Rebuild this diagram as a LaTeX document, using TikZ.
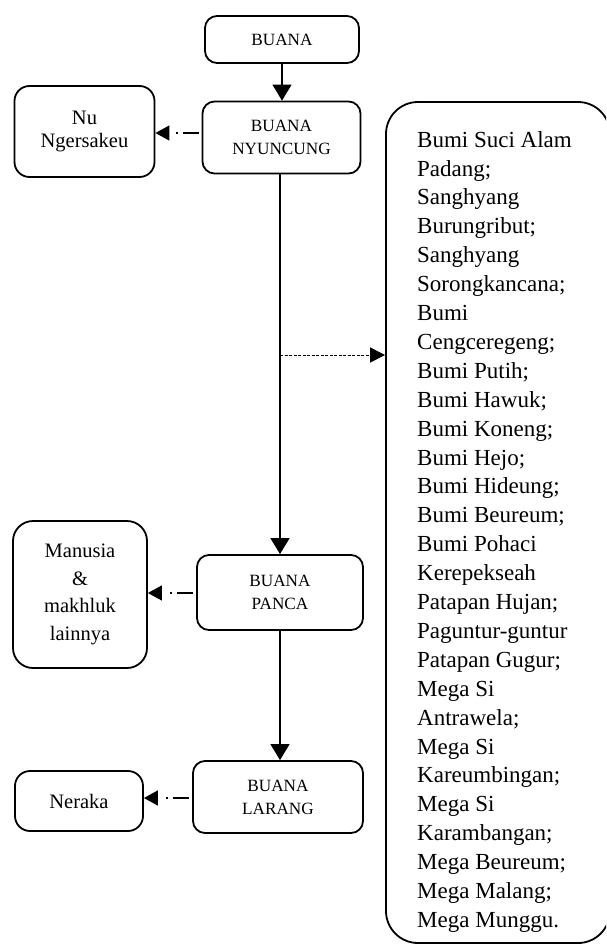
\documentclass[tikz,border=0pt]{standalone}
\usepackage{fontspec}
\setmainfont{Liberation Serif}
\usetikzlibrary{arrows.meta}
\begin{document}
\begin{tikzpicture}[x=1pt,y=-1pt,
  box/.style={draw, line width=1.8pt, rounded corners=12pt, align=center, inner sep=0pt, font=\fontsize{17.2}{23}\selectfont},
  sidebox/.style={draw, line width=1.8pt, rounded corners=15pt, align=center, inner sep=0pt, font=\fontsize{20.5}{23}\selectfont},
  flow/.style={line width=1.3pt, -{Triangle[length=16pt,width=19pt]}},
  sidearrow/.style={line width=1.3pt, shorten <=3pt, dash pattern=on 16pt off 5pt on 2pt off 60pt, -{Triangle[length=14pt,width=15pt]}},
  hint/.style={line width=1pt, dash pattern=on 3pt off 1.5pt, -{Triangle[length=15pt,width=15pt]}}]
\clip (0,0) rectangle (606,945);
\useasboundingbox (0,0) rectangle (606,945);

\node[box, minimum width=154pt, minimum height=47pt] (buana) at (282,39.5) {BUANA};
\node[box, minimum width=158pt, minimum height=72pt] (nyun) at (281.5,137.5) {BUANA\\NYUNCUNG};
\node[box, minimum width=166pt, minimum height=75pt] (panca) at (280,592.5) {BUANA\\PANCA};
\node[box, minimum width=170pt, minimum height=72pt] (larang) at (278,797) {BUANA\\LARANG};

\node[sidebox, minimum width=140pt, minimum height=91pt] (nu) at (84.5,131.5) {Nu\\Ngersakeu};
\node[sidebox, rounded corners=20pt, minimum width=134pt, minimum height=147pt, font=\fontsize{20.5}{27.7}\selectfont] (manusia) at (80,594.5) {Manusia\\\&\\makhluk\\lainnya};
\node[sidebox, minimum width=128pt, minimum height=60pt] (neraka) at (79,801) {Neraka};

\node[draw, line width=1.8pt, rounded corners=32pt, minimum width=224pt, minimum height=841pt, inner sep=0pt] (big) at (498,522.5) {};
\node[anchor=north west, inner sep=0pt, align=left, font=\fontsize{23}{28.9}\selectfont] (list) at (417,131) {Bumi Suci Alam\\Padang;\\Sanghyang\\Burungribut;\\Sanghyang\\Sorongkancana;\\Bumi\\Cengceregeng;\\Bumi Putih;\\Bumi Hawuk;\\Bumi Koneng;\\Bumi Hejo;\\Bumi Hideung;\\Bumi Beureum;\\Bumi Pohaci\\Kerepekseah\\Patapan Hujan;\\Paguntur-guntur\\Patapan Gugur;\\Mega Si\\Antrawela;\\Mega Si\\Kareumbingan;\\Mega Si\\Karambangan;\\Mega Beureum;\\Mega Malang;\\Mega Munggu.};

\draw[flow] (buana.south) -- (buana.south |- nyun.north);
\draw[flow] (nyun.south -| panca.north) -- (panca.north);
\draw[flow] (panca.south) -- (panca.south |- larang.north);

\coordinate (split) at (280,355);
\draw[hint] (split) -- (split -| big.west);

\draw[sidearrow] (nyun.west |- 0,133) -- (nu.east |- 0,133);
\draw[sidearrow] (panca.west |- 0,593) -- (manusia.east |- 0,593);
\draw[sidearrow] (larang.west |- 0,798) -- (neraka.east |- 0,798);
\end{tikzpicture}
\end{document}
